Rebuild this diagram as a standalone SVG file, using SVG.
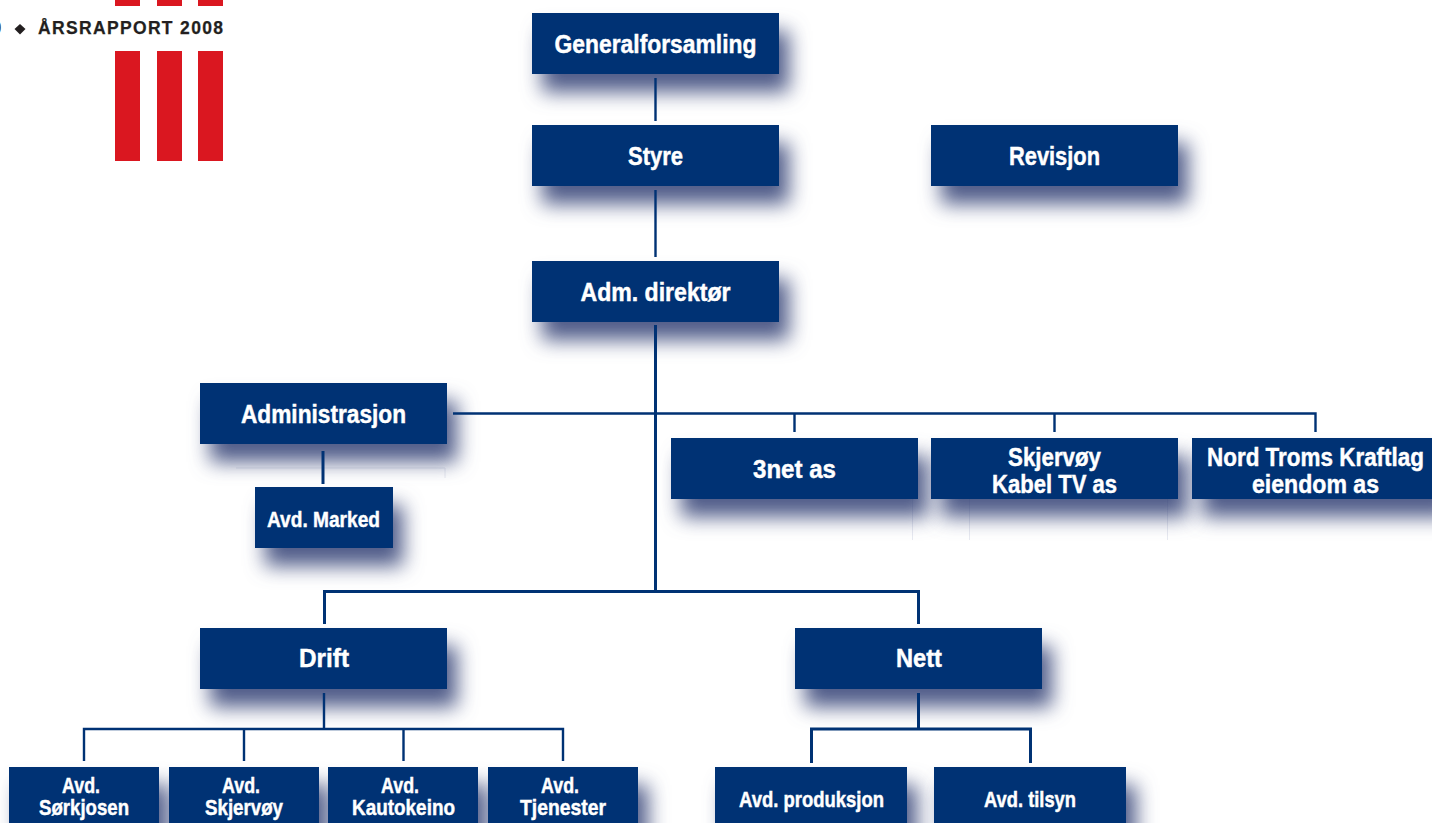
<svg xmlns="http://www.w3.org/2000/svg" width="1432" height="823" viewBox="0 0 1432 823">
<style>
.b{fill:#003274;filter:url(#s)}
.t{font-family:"Liberation Sans Narrow","Liberation Sans",Arial,sans-serif;font-weight:700;fill:#fff;stroke:#fff;stroke-width:.45px;font-size:26.5px;text-anchor:middle}
.m{font-size:22px}
.c{fill:none;stroke:#003274;stroke-width:2.4}
.r{fill:#da1720}
.f{fill:none;stroke:#e8eaf1;stroke-width:1}
.h{font-family:"Liberation Sans",sans-serif;font-weight:700;font-size:17.5px;fill:#231f20;stroke:#231f20;stroke-width:.25px}
</style>
<defs>
<filter id="s" x="-25%" y="-40%" width="160%" height="270%" color-interpolation-filters="sRGB">
<feDropShadow dx="10" dy="18" stdDeviation="10" flood-color="#29386f" flood-opacity="0.82"/>
</filter>
</defs>
<rect width="1432" height="823" fill="#fff"/>
<g id="header">
<rect class="r" x="115" y="0" width="25" height="6"/><rect class="r" x="157" y="0" width="25" height="6"/><rect class="r" x="198" y="0" width="25" height="6"/>
<rect class="r" x="115" y="51" width="25" height="110"/><rect class="r" x="157" y="51" width="25" height="110"/><rect class="r" x="198" y="51" width="25" height="110"/>
<text class="h" x="-8.500" y="34">0</text>
<polygon points="20,24 25.500,29 20,34.500 14.500,29" fill="#231f20"/>
<text class="h" x="38" y="34" textLength="185" lengthAdjust="spacing">ÅRSRAPPORT 2008</text>
</g>
<g id="shadow-artifacts">
<path class="f" d="M236 468H445V478M912.500 499V540M969.500 499V540M1167.500 499V540"/>
</g>
<g id="n1"><rect class="b" x="532" y="13" width="247" height="61"/><text class="t" x="655.500" y="53" textLength="202" lengthAdjust="spacingAndGlyphs">Generalforsamling</text></g>
<g id="n2"><rect class="b" x="532" y="125" width="247" height="61"/><text class="t" x="655.500" y="165" textLength="55" lengthAdjust="spacingAndGlyphs">Styre</text></g>
<g id="n3"><rect class="b" x="931" y="125" width="247" height="61"/><text class="t" x="1054.500" y="165" textLength="91" lengthAdjust="spacingAndGlyphs">Revisjon</text></g>
<g id="n4"><rect class="b" x="532" y="261" width="247" height="61"/><text class="t" x="655.500" y="301" textLength="150" lengthAdjust="spacingAndGlyphs">Adm. direktør</text></g>
<g id="n5"><rect class="b" x="200" y="383" width="247" height="61"/><text class="t" x="323.500" y="423" textLength="165" lengthAdjust="spacingAndGlyphs">Administrasjon</text></g>
<g id="n6"><rect class="b" x="255" y="487" width="138" height="61"/><text class="t m" x="323.500" y="527" textLength="113" lengthAdjust="spacingAndGlyphs">Avd. Marked</text></g>
<g id="n7"><rect class="b" x="671" y="438" width="247" height="61"/><text class="t" x="794.500" y="478" textLength="83" lengthAdjust="spacingAndGlyphs">3net as</text></g>
<g id="n8"><rect class="b" x="931" y="438" width="247" height="61"/><text class="t" x="1054.500" y="466" textLength="93" lengthAdjust="spacingAndGlyphs">Skjervøy</text><text class="t" x="1054.500" y="493" textLength="125" lengthAdjust="spacingAndGlyphs">Kabel TV as</text></g>
<g id="n9"><rect class="b" x="1192" y="438" width="250" height="61"/><text class="t" x="1315.500" y="466" textLength="217" lengthAdjust="spacingAndGlyphs">Nord Troms Kraftlag</text><text class="t" x="1315.500" y="493" textLength="127" lengthAdjust="spacingAndGlyphs">eiendom as</text></g>
<g id="n10"><rect class="b" x="200" y="628" width="247" height="61"/><text class="t" x="324" y="667" textLength="50" lengthAdjust="spacingAndGlyphs">Drift</text></g>
<g id="n11"><rect class="b" x="795" y="628" width="247" height="61"/><text class="t" x="919" y="667" textLength="46" lengthAdjust="spacingAndGlyphs">Nett</text></g>
<g id="n12"><rect class="b" x="9" y="767" width="150" height="70"/><text class="t m" x="81" y="793" textLength="38" lengthAdjust="spacingAndGlyphs">Avd.</text><text class="t m" x="84" y="815" textLength="90" lengthAdjust="spacingAndGlyphs">Sørkjosen</text></g>
<g id="n13"><rect class="b" x="169" y="767" width="150" height="70"/><text class="t m" x="241" y="793" textLength="38" lengthAdjust="spacingAndGlyphs">Avd.</text><text class="t m" x="244" y="815" textLength="78" lengthAdjust="spacingAndGlyphs">Skjervøy</text></g>
<g id="n14"><rect class="b" x="328" y="767" width="150" height="70"/><text class="t m" x="400" y="793" textLength="38" lengthAdjust="spacingAndGlyphs">Avd.</text><text class="t m" x="403.500" y="815" textLength="103" lengthAdjust="spacingAndGlyphs">Kautokeino</text></g>
<g id="n15"><rect class="b" x="488" y="767" width="150" height="70"/><text class="t m" x="560" y="793" textLength="38" lengthAdjust="spacingAndGlyphs">Avd.</text><text class="t m" x="563" y="815" textLength="86" lengthAdjust="spacingAndGlyphs">Tjenester</text></g>
<g id="n16"><rect class="b" x="715" y="767" width="192" height="70"/><text class="t m" x="811.500" y="807" textLength="145" lengthAdjust="spacingAndGlyphs">Avd. produksjon</text></g>
<g id="n17"><rect class="b" x="934" y="767" width="192" height="70"/><text class="t m" x="1030" y="807" textLength="92" lengthAdjust="spacingAndGlyphs">Avd. tilsyn</text></g>
<g id="connectors">
<path class="c" d="M655.500 78V121M655.500 190V257"/>
<path class="c" style="stroke-width:3" d="M655.500 325V591"/>
<path class="c" d="M453 413.500H1315.500V432M794.500 413.500V432M1054.500 413.500V432"/>
<path class="c" style="stroke-width:3" d="M323 451V484"/>
<path class="c" style="stroke-width:3" d="M324.500 624V591.500H918.500V624"/>
<path class="c" d="M324 693V729M84 761V729H563V761M244 729V761M403.500 729V761"/>
<path class="c" style="stroke-width:3" d="M918.500 693V729M811.500 763V729H1030.500V763"/>
</g>
</svg>
